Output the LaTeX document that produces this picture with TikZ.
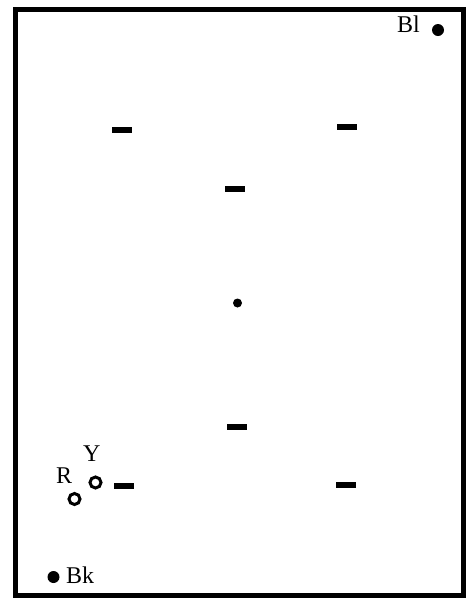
\documentclass[tikz,border=0pt]{standalone}
\usepackage{fontspec}
\setmainfont{Liberation Serif}
\begin{document}
\begin{tikzpicture}[x=1pt,y=-1pt,
  lbl/.style={anchor=base west,inner sep=0pt,font=\fontsize{24}{24}\selectfont},
  bar/.style={fill=black,draw=none,minimum width=20pt,minimum height=6pt,inner sep=0pt},
  bigdot/.style={circle,fill=black,draw=none,minimum size=12pt,inner sep=0pt},
  smalldot/.style={circle,fill=black,draw=none,minimum size=9pt,inner sep=0pt},
  ring/.style={circle,draw=black,line width=3pt,minimum size=11pt,inner sep=0pt}]
\useasboundingbox (0,0) rectangle (471,598);
\draw[line width=5pt] (15.5,9.5) rectangle (463.5,595.5);
\node[bigdot] (bl) at (438,30) {};
\node[lbl] (bltext) at (397,32) {Bl};
\node[bigdot] (bk) at (53.5,577) {};
\node[lbl] (bktext) at (66,583) {Bk};
\node[smalldot] (c) at (237.5,303) {};
\node[bar] (d1) at (122,129.5) {};
\node[bar] (d2) at (347,127) {};
\node[bar] (d3) at (235,189) {};
\node[bar] (d4) at (237,427) {};
\node[bar] (d5) at (124,486) {};
\node[bar] (d6) at (346,485) {};
\node[ring] (y) at (95.5,482.5) {};
\node[ring] (r) at (74.5,499) {};
\node[lbl] (ytext) at (83,461) {Y};
\node[lbl] (rtext) at (56,483) {R};
\end{tikzpicture}
\end{document}
